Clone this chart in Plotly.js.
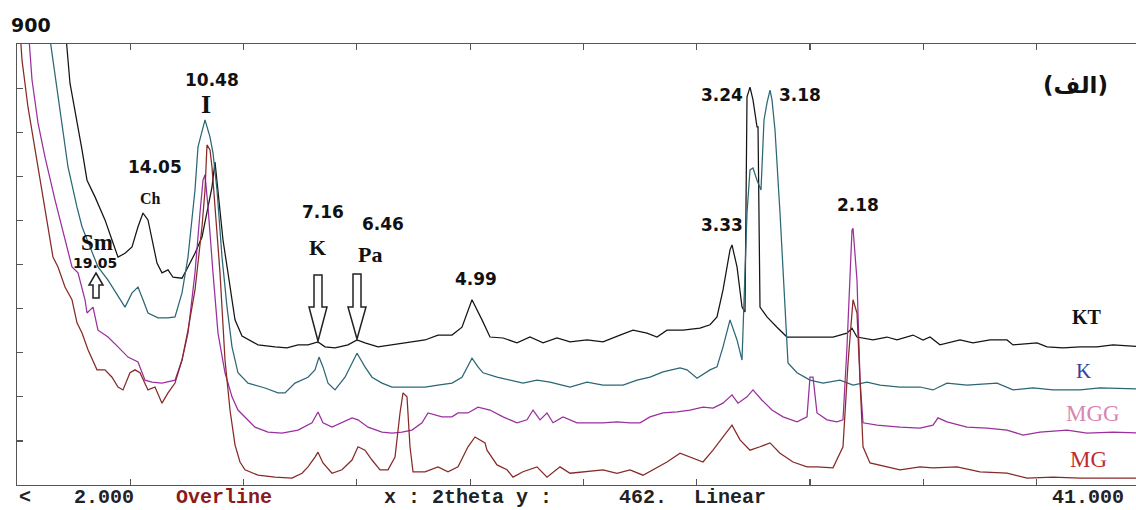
<!DOCTYPE html>
<html><head><meta charset="utf-8">
<script src="https://cdn.plot.ly/plotly-3.0.1.min.js"></script>
<style>html,body{margin:0;padding:0;background:#fff;}#chart{width:1136px;height:510px;}</style>
</head><body><div id="chart"></div>
<script>
// ---- data: 2theta (deg) and intensity (counts) ----
const seriesNames = ["KT", "K", "MGG", "MG"];

const ktX = [3.652,3.824,4.238,4.410,4.685,5.029,5.270,5.477,5.718,5.959,6.165,6.337,6.509,6.647,6.819,6.991,7.198,7.370,7.680,7.886,8.127,8.368,8.540,8.712,8.816,8.919,9.091,9.263,9.504,9.745,10.296,10.881,11.294,11.673,12.017,12.361,12.602,12.947,13.394,13.704,13.979,14.427,14.909,15.459,16.045,16.492,16.974,17.318,17.662,18.007,18.282,18.730,19.212,19.659,20.107,20.588,21.036,21.621,22.172,22.757,23.205,23.686,24.031,24.375,24.926,25.511,25.855,26.096,26.303,26.544,26.612,26.785,26.957,27.060,27.129,27.232,27.335,27.473,27.508,27.576,27.817,28.161,28.506,28.953,29.538,30.089,30.571,30.743,30.915,31.466,31.948,32.292,32.843,33.187,33.428,33.772,34.461,34.908,35.494,36.079,36.285,37.111,37.456,38.006,38.592,39.177,39.728,40.519,40.83];
const ktY = [939,820,684,622,588,541,500,465,473,486,527,555,541,500,453,433,439,424,422,445,473,506,555,608,659,602,500,433,337,304,286,282,280,286,286,292,282,280,286,296,290,282,286,290,296,306,306,322,378,337,302,300,290,302,290,300,292,296,292,306,316,310,302,316,316,320,327,343,398,480,490,445,363,353,792,812,786,731,731,363,343,322,302,302,302,302,310,320,302,296,302,296,306,296,302,286,296,290,296,296,286,290,282,280,282,282,286,282,282];

const kX = [3.067,3.308,3.549,3.756,4.065,4.238,4.513,4.788,5.133,5.477,5.718,5.959,6.165,6.337,6.509,6.854,7.198,7.439,7.680,7.886,8.127,8.231,8.403,8.472,8.644,8.747,8.885,9.057,9.229,9.401,9.607,9.952,10.537,10.984,11.225,11.570,12.017,12.258,12.396,12.533,12.706,12.947,13.291,13.704,13.979,14.220,14.564,14.909,15.356,15.700,16.045,16.492,16.974,17.318,17.662,17.869,18.041,18.523,18.971,19.418,19.900,20.348,21.036,21.621,22.172,22.860,23.342,23.790,24.237,24.822,25.063,25.408,25.855,26.096,26.303,26.544,26.785,26.957,27.129,27.232,27.335,27.473,27.611,27.714,27.817,27.921,27.989,28.093,28.265,28.437,28.540,28.850,29.297,29.745,30.330,30.778,31.260,31.707,32.396,33.084,33.532,34.013,34.702,35.735,36.285,36.974,37.662,38.592,39.280,40.519,40.83];
const kY = [939,841,739,649,567,527,486,445,418,384,363,392,404,378,351,341,341,343,392,465,602,690,731,745,710,678,602,465,363,282,229,208,198,188,188,208,220,235,261,241,208,194,220,269,241,220,208,200,200,200,200,204,208,220,259,241,229,220,214,208,214,210,200,210,204,204,214,220,231,239,235,218,235,241,282,337,296,255,555,643,647,622,602,745,780,806,786,724,555,351,249,229,214,208,214,204,210,204,200,200,194,208,204,208,194,198,194,194,198,196,196];

const mggX = [2.379,2.516,2.723,2.964,3.308,3.652,3.893,4.100,4.341,4.410,4.616,4.788,5.133,5.477,5.821,6.165,6.406,6.647,6.991,7.439,7.680,7.886,8.127,8.299,8.403,8.472,8.575,8.747,8.919,9.160,9.401,9.607,9.848,10.193,10.640,11.122,11.673,12.155,12.361,12.533,12.843,13.187,13.532,13.739,14.082,14.564,14.909,15.253,15.597,15.941,16.148,16.630,16.974,17.181,17.525,17.869,18.282,18.730,19.212,19.556,19.763,20.003,20.244,20.451,20.795,21.277,21.724,22.172,22.654,23.101,23.446,23.790,24.237,24.719,25.167,25.614,25.958,26.303,26.612,26.819,27.129,27.335,27.645,27.989,28.368,28.850,29.194,29.297,29.401,29.538,29.883,30.227,30.433,30.571,30.743,30.778,30.915,31.019,31.122,31.604,32.396,33.084,33.532,33.704,34.013,34.702,35.390,36.079,36.630,37.215,38.144,38.833,39.728,40.519,40.83];
const mggY = [939,827,739,669,582,500,445,433,378,351,363,316,302,282,261,251,214,210,208,214,255,310,433,555,622,633,567,433,310,229,180,153,139,118,108,106,112,127,149,127,118,127,137,133,118,108,106,108,112,127,147,139,139,147,147,159,153,139,127,133,153,133,147,127,139,127,127,127,129,127,127,139,147,149,153,159,157,167,184,167,180,194,173,153,139,129,139,220,220,147,133,129,133,282,520,524,418,214,127,122,118,116,122,137,129,118,116,112,102,108,112,106,108,106,106];

const mgX = [2.103,2.172,2.379,2.620,2.861,3.067,3.239,3.411,3.652,3.893,4.065,4.238,4.444,4.754,5.029,5.270,5.477,5.649,5.890,6.062,6.234,6.509,6.750,6.991,7.198,7.439,7.680,7.886,8.127,8.368,8.472,8.540,8.644,8.712,8.816,8.988,9.160,9.332,9.504,9.676,9.848,10.296,10.881,11.466,11.811,12.017,12.258,12.361,12.533,12.843,13.187,13.532,13.739,13.979,14.220,14.496,14.771,15.012,15.184,15.287,15.425,15.528,15.632,16.045,16.492,16.836,17.181,17.525,17.766,18.110,18.179,18.523,18.867,19.074,19.418,19.900,20.244,20.692,21.036,21.621,22.172,22.654,23.101,23.549,23.893,24.375,24.822,25.167,25.614,25.958,26.303,26.612,26.888,27.232,27.576,27.921,28.265,28.712,29.194,29.538,30.089,30.433,30.606,30.778,30.915,31.019,31.122,31.363,31.948,32.396,33.084,33.532,34.358,35.149,36.079,36.767,37.662,38.592,39.728,40.519,40.83];
const mgY = [929,867,771,684,602,527,465,445,404,378,331,310,276,235,235,220,200,194,229,235,229,194,200,167,188,208,255,316,398,527,602,694,684,649,567,433,255,153,82,47,31,20,16,14,24,37,57,67,45,24,31,51,78,71,51,31,31,57,147,188,180,78,27,27,37,27,37,78,98,86,71,41,31,16,27,37,16,37,24,27,31,24,31,20,31,47,65,57,47,71,98,122,92,71,78,86,65,47,37,37,35,78,249,378,351,214,78,45,37,31,37,35,37,27,24,14,16,14,14,14,14];

const seriesColors = ["#141414", "#2b6774", "#9a2f9e", "#862a28"];

// ---- layout helpers (pixel -> paper for decorations) ----
const L = 17, R = 1136, T = 44, B = 485;
const pxX = v => (v - L) / (R - L);
const pxY = v => (B - v) / (B - T);
const SANS = "DejaVu Sans", SERIF = "Liberation Serif", MONO = "Liberation Mono";

function lab(text, x, y, size, family, color, xanchor) {
  return {xref: "paper", yref: "paper", x: pxX(x), y: pxY(y), text: text, showarrow: false,
          xanchor: xanchor || "center", yanchor: "middle",
          font: {family: family, size: size, color: color || "#111"}};
}
function arrowPath(pts) {
  return "M " + pts.map(p => pxX(p[0]).toFixed(5) + "," + pxY(p[1]).toFixed(5)).join(" L ") + " Z";
}

const xs = [ktX, kX, mggX, mgX], ys = [ktY, kY, mggY, mgY];
const traces = seriesNames.map((n, i) => ({
  type: "scatter", mode: "lines", name: n, x: xs[i], y: ys[i],
  line: {color: seriesColors[i], width: 1.25}, hoverinfo: "skip", showlegend: false
}));

const annotations = [
  lab("<b>900</b>", 31, 25, 19, SANS),
  lab("<b>10.48</b>", 212, 80, 17, SANS),
  lab("<b>I</b>", 206, 105, 26, SERIF),
  lab("<b>14.05</b>", 155, 167, 17, SANS),
  lab("<b>Ch</b>", 150, 198, 16, SERIF),
  lab("<b>Sm</b>", 97, 242, 23, SERIF),
  lab("<b>19.05</b>", 95, 263, 14, SANS),
  lab("<b>7.16</b>", 323, 212, 17, SANS),
  lab("<b>K</b>", 317, 247, 22, SERIF),
  lab("<b>6.46</b>", 383, 224, 17, SANS),
  lab("<b>Pa</b>", 370, 254, 22, SERIF),
  lab("<b>4.99</b>", 476, 279, 17, SANS),
  lab("<b>3.24</b>", 722, 95, 17, SANS),
  lab("<b>3.18</b>", 800, 95, 17, SANS),
  lab("<b>3.33</b>", 722, 225, 17, SANS),
  lab("<b>2.18</b>", 858, 205, 17, SANS),
  lab("<b>(الف)</b>", 1075, 85, 23, SANS),
  lab("<b>KT</b>", 1087, 317, 20, SERIF, "#111"),
  lab("K", 1083, 371, 21, SERIF, "#3c3c9e"),
  lab("MGG", 1093, 413, 23, SERIF, "#d985b3"),
  lab("MG", 1088, 459, 23, SERIF, "#c22a2e"),
  // status bar text
  lab("<b>&lt;</b>", 17, 497, 20, MONO, "#222", "left"),
  lab("<b>2.000</b>", 72, 497, 20, MONO, "#222", "left"),
  lab("<b>Overline</b>", 174, 497, 20, MONO, "#8b1a1a", "left"),
  lab("<b>x : 2theta y :</b>", 382, 497, 20, MONO, "#222", "left"),
  lab("<b>462.</b>", 617, 497, 20, MONO, "#222", "left"),
  lab("<b>Linear</b>", 692, 497, 20, MONO, "#222", "left"),
  lab("<b>41.000</b>", 1050, 497, 20, MONO, "#222", "left")
];

const arrowStyle = {xref: "paper", yref: "paper", type: "path", fillcolor: "#fff",
                    line: {color: "#222", width: 1.5}, layer: "above"};
const shapes = [
  Object.assign({path: arrowPath([[314,275],[322,275],[322,307],[327,307],[318,341],[309,307],[314,307]])}, arrowStyle),
  Object.assign({path: arrowPath([[353,274],[361,274],[361,307],[366,307],[357,339],[348,307],[353,307]])}, arrowStyle),
  Object.assign({path: arrowPath([[96,273],[103,285],[99,285],[99,298],[93,298],[93,285],[89,285]])}, arrowStyle)
];

const axisBase = {showgrid: false, zeroline: false, showline: true, linecolor: "#555", linewidth: 1.2,
                  ticks: "inside", ticklen: 6, tickcolor: "#555", tickwidth: 1.2,
                  showticklabels: false, fixedrange: true};

const layout = {
  width: 1136, height: 510,
  margin: {l: L, r: 0, t: T, b: 510 - B, pad: 0},
  paper_bgcolor: "#fff", plot_bgcolor: "#fff",
  showlegend: false,
  xaxis: Object.assign({}, axisBase, {range: [2, 40.519], tick0: 2, dtick: 3.9, mirror: "ticks"}),
  yaxis: Object.assign({}, axisBase, {range: [0, 900], tick0: 0, dtick: 90}),
  annotations: annotations,
  shapes: shapes
};

Plotly.newPlot("chart", traces, layout, {staticPlot: true, displayModeBar: false});
</script>
</body></html>
